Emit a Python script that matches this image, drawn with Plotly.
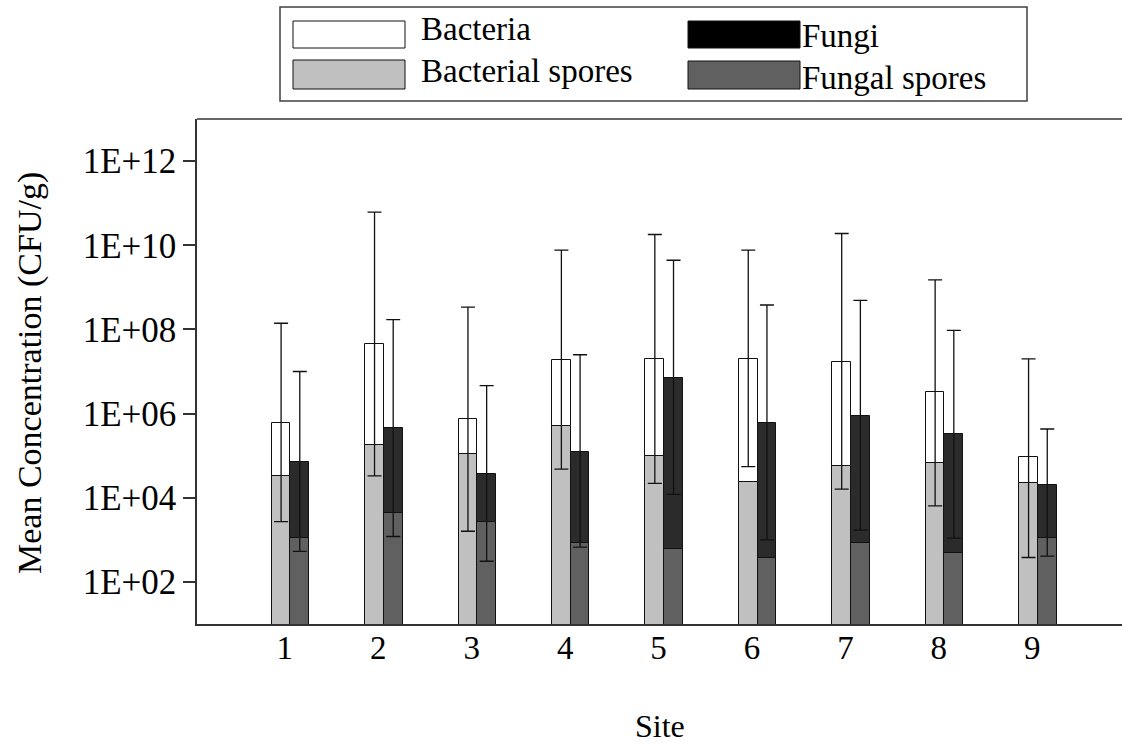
import plotly.graph_objects as go

# Mean concentrations (CFU/g) per sampling site
sites = [1, 2, 3, 4, 5, 6, 7, 8, 9]
site_labels = ["1", "2", "3", "4", "5", "6", "7", "8", "9"]

bacteria = [6.1e5, 4.6e7, 7.3e5, 1.9e7, 2.0e7, 2.0e7, 1.7e7, 3.2e6, 9.1e4]
bacterial_spores = [3.3e4, 1.8e5, 1.1e5, 5.0e5, 1.0e5, 2.4e4, 5.8e4, 6.6e4, 2.2e4]
fungi = [7.1e4, 4.6e5, 3.7e4, 1.2e5, 7.2e6, 6.1e5, 9.0e5, 3.3e5, 2.0e4]
fungal_spores = [1.1e3, 4.4e3, 2.6e3, 8.6e2, 6.0e2, 3.8e2, 8.2e2, 5.0e2, 1.1e3]

# Error bar bounds (upper / lower) for bacteria and fungi
bacteria_hi = [1.4e8, 6.1e10, 3.4e8, 7.7e9, 1.8e10, 7.7e9, 1.9e10, 1.5e9, 2.0e7]
bacteria_lo = [2.7e3, 3.3e4, 1.6e3, 4.8e4, 2.2e4, 5.5e4, 1.6e4, 6.4e3, 3.8e2]
fungi_hi = [1.0e7, 1.7e8, 4.6e6, 2.5e7, 4.4e9, 3.8e8, 4.9e8, 9.5e7, 4.3e5]
fungi_lo = [5.3e2, 1.2e3, 3.1e2, 6.7e2, 1.2e4, 1.0e3, 1.7e3, 1.1e3, 4.1e2]

y_tickvals = [1e2, 1e4, 1e6, 1e8, 1e10, 1e12]
y_ticktext = ["1E+02", "1E+04", "1E+06", "1E+08", "1E+10", "1E+12"]

FONT = "Liberation Serif, Times New Roman, serif"
W, H = 1122, 745
L, R, T, B = 197, 0, 119, 121
BAR_W = 0.2

x_bac = [s - BAR_W / 2 for s in sites]
x_fun = [s + BAR_W / 2 for s in sites]

fig = go.Figure()
outline = dict(color="#111111", width=1)

fig.add_trace(go.Bar(x=x_bac, y=bacteria, width=BAR_W, name="Bacteria",
                     marker=dict(color="#ffffff", line=outline)))
fig.add_trace(go.Bar(x=x_bac, y=bacterial_spores, width=BAR_W, name="Bacterial spores",
                     marker=dict(color="#c0c0c0", line=outline)))
fig.add_trace(go.Bar(x=x_fun, y=fungi, width=BAR_W, name="Fungi",
                     marker=dict(color="#2b2b2b", line=outline)))
fig.add_trace(go.Bar(x=x_fun, y=fungal_spores, width=BAR_W, name="Fungal spores",
                     marker=dict(color="#606060", line=outline)))


def err_trace(xs, vals, hi, lo):
    return go.Scatter(
        x=xs, y=vals, mode="markers", showlegend=False, hoverinfo="skip",
        marker=dict(size=1, color="rgba(0,0,0,0)"),
        error_y=dict(type="data", symmetric=False,
                     array=[h - v for h, v in zip(hi, vals)],
                     arrayminus=[v - l for v, l in zip(vals, lo)],
                     color="#111111", thickness=1.3, width=7),
    )


# error bars go in the scatter layer so they sit above every bar
fig.add_trace(err_trace(x_bac, bacteria, bacteria_hi, bacteria_lo))
fig.add_trace(err_trace(x_fun, fungi, fungi_hi, fungi_lo))

pw, ph = W - L - R, H - T - B


def px(x):
    return (x - L) / pw


def py(y):
    return (H - B - y) / ph


shapes = [
    # top frame line
    dict(type="line", xref="paper", yref="paper", x0=0, x1=1, y0=1, y1=1,
         line=dict(color="#333333", width=1.5)),
    # legend box
    dict(type="rect", xref="paper", yref="paper", x0=px(280), x1=px(1027),
         y0=py(101), y1=py(7), line=dict(color="#404040", width=1.5),
         fillcolor="white"),
]
annotations = []
legend_items = [
    ("Bacteria", "#ffffff", 293, 405, 21, 48, 419, 29),
    ("Bacterial spores", "#c0c0c0", 293, 405, 60, 89, 419, 71),
    ("Fungi", "#000000", 688, 800, 21, 48, 800, 36),
    ("Fungal spores", "#606060", 688, 800, 61, 89, 800, 78),
]
for label, col, sx0, sx1, sy0, sy1, tx, ty in legend_items:
    shapes.append(dict(type="rect", xref="paper", yref="paper",
                       x0=px(sx0), x1=px(sx1), y0=py(sy1), y1=py(sy0),
                       fillcolor=col, line=dict(color="#111111", width=1)))
    annotations.append(dict(text=label, xref="paper", yref="paper",
                            x=px(tx), y=py(ty), xanchor="left", yanchor="middle",
                            showarrow=False, font=dict(family=FONT, size=33, color="black")))

annotations.append(dict(text="Site", xref="paper", yref="paper", x=0.5, y=py(745),
                        xanchor="center", yanchor="bottom", borderpad=0, showarrow=False,
                        font=dict(family=FONT, size=32, color="black")))
annotations.append(dict(text="Mean Concentration (CFU/g)", xref="paper", yref="paper",
                        x=px(30), y=py(373), xanchor="center", yanchor="middle",
                        textangle=-90, showarrow=False,
                        font=dict(family=FONT, size=34, color="black")))

fig.update_layout(
    width=W, height=H,
    margin=dict(l=L, r=R, t=T, b=B),
    paper_bgcolor="white", plot_bgcolor="white",
    barmode="overlay", bargap=0, showlegend=False,
    font=dict(family=FONT, color="black"),
    shapes=shapes, annotations=annotations,
)
fig.update_xaxes(
    range=[0, 9.9], showgrid=False, zeroline=False,
    tickvals=[s - 0.06 for s in sites], ticktext=site_labels, ticks="",
    ticklabelstandoff=-6,
    tickfont=dict(family=FONT, size=33, color="black"),
    showline=True, linecolor="#333333", linewidth=1.5,
)
fig.update_yaxes(
    type="log", range=[1, 13], showgrid=False, zeroline=False,
    tickvals=y_tickvals, ticktext=y_ticktext, ticks="outside", ticklen=12,
    tickcolor="#333333", tickwidth=1.5,
    tickfont=dict(family=FONT, size=35, color="black"),
    showline=True, linecolor="#333333", linewidth=1.5,
)

fig.write_html("out.html")
